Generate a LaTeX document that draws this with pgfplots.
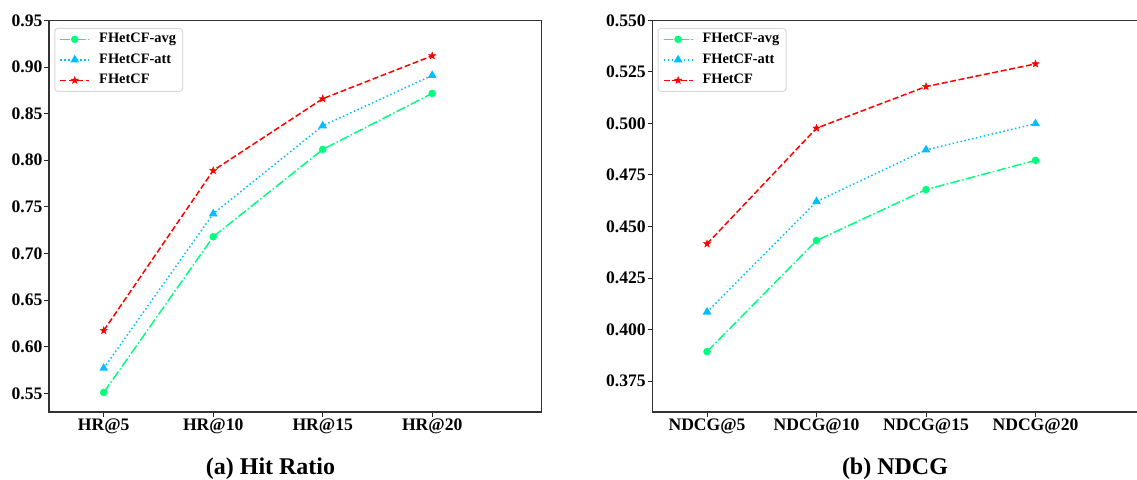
\documentclass[border=0pt]{standalone}
\usepackage{pgfplots}
\pgfplotsset{compat=1.18}
\usepackage{fontspec}
\setmainfont{Liberation Serif}
\definecolor{cavg}{RGB}{0,255,127}
\definecolor{catt}{RGB}{0,191,255}
\definecolor{cfh}{RGB}{255,0,0}
\pgfdeclareplotmark{fstar}{%
  \pgfpathmoveto{\pgfpointpolar{90}{\pgfplotmarksize}}%
  \pgfpathlineto{\pgfpointpolar{126}{0.42\pgfplotmarksize}}%
  \pgfpathlineto{\pgfpointpolar{162}{\pgfplotmarksize}}%
  \pgfpathlineto{\pgfpointpolar{198}{0.42\pgfplotmarksize}}%
  \pgfpathlineto{\pgfpointpolar{234}{\pgfplotmarksize}}%
  \pgfpathlineto{\pgfpointpolar{270}{0.42\pgfplotmarksize}}%
  \pgfpathlineto{\pgfpointpolar{306}{\pgfplotmarksize}}%
  \pgfpathlineto{\pgfpointpolar{342}{0.42\pgfplotmarksize}}%
  \pgfpathlineto{\pgfpointpolar{18}{\pgfplotmarksize}}%
  \pgfpathlineto{\pgfpointpolar{54}{0.42\pgfplotmarksize}}%
  \pgfpathclose
  \pgfusepathqfillstroke}
\pgfplotsset{
  panel/.style={
    scale only axis,
    width=246.35pt, height=195.8pt,
    xmin=-0.5, xmax=4,
    xtick={0,1,2,3},
    tick align=outside,
    tick pos=left,
    major tick length=2.3pt,
    every tick/.style={black!85, line width=0.5pt},
    axis line style={black!80, line width=0.6pt},
    ticklabel style={font=\fontsize{8.8}{10}\selectfont\bfseries, inner sep=0.8pt},
    /pgf/number format/assume math mode=true,
    /pgf/number format/fixed,
    /pgf/number format/fixed zerofill,
    legend style={at={(0.0108,0.981)}, anchor=north west,
      draw=black!15, rounded corners=1.5pt, line width=0.5pt,
      inner xsep=2.35pt, inner ysep=1.25pt,
      font=\fontsize{7.2}{8}\selectfont\bfseries,
      row sep=1.75pt, column sep=3.6pt,
      nodes={inner sep=1pt, text height=5pt, text depth=1.5pt}},
    legend cell align=left,
    legend image code/.code={\draw[mark repeat=2,mark phase=2,##1] plot coordinates {(0pt,0pt)(7.25pt,0pt)(14.5pt,0pt)};},
  },
  savg/.style={cavg, line width=0.75pt, dash pattern=on 4.8pt off 1.2pt on 0.75pt off 1.2pt,
    mark=*, mark size=1.5pt, mark options={solid, fill=cavg, draw=cavg}},
  satt/.style={catt, line width=0.75pt, dash pattern=on 0.75pt off 1.25pt,
    mark=triangle*, mark size=1.8pt, mark options={solid, fill=catt, draw=catt}},
  sfh/.style={cfh, line width=0.75pt, dash pattern=on 3pt off 1.3pt,
    mark=fstar, mark size=1.9pt, mark options={solid, fill=cfh, draw=cfh, line width=0.2pt}},
}
\begin{document}
\begin{tikzpicture}
\path[use as bounding box] (-24.5pt,-33.5pt) rectangle (544pt,206pt);
\begin{axis}[panel, at={(0pt,0pt)}, anchor=south west,
  ymin=0.53, ymax=0.95,
  ytick={0.55,0.60,0.65,0.70,0.75,0.80,0.85,0.90,0.95},
  /pgf/number format/precision=2,
  xticklabels={HR@5,HR@10,HR@15,HR@20}]
\addplot[savg] coordinates {(0,0.551) (1,0.718) (2,0.8116) (3,0.8717)};
\addlegendentry{FHetCF-avg}
\addplot[satt] coordinates {(0,0.577) (1,0.7426) (2,0.837) (3,0.891)};
\addlegendentry{FHetCF-att}
\addplot[sfh] coordinates {(0,0.6174) (1,0.789) (2,0.866) (3,0.912)};
\addlegendentry{FHetCF}
\end{axis}
\begin{axis}[panel, at={(301.65pt,0pt)}, anchor=south west,
  ymin=0.36, ymax=0.55,
  ytick={0.375,0.400,0.425,0.450,0.475,0.500,0.525,0.550},
  /pgf/number format/precision=3,
  xticklabels={NDCG@5,NDCG@10,NDCG@15,NDCG@20}]
\addplot[savg] coordinates {(0,0.3893) (1,0.4432) (2,0.4679) (3,0.4821)};
\addlegendentry{FHetCF-avg}
\addplot[satt] coordinates {(0,0.4085) (1,0.4621) (2,0.4872) (3,0.4999)};
\addlegendentry{FHetCF-att}
\addplot[sfh] coordinates {(0,0.4416) (1,0.4977) (2,0.5179) (3,0.5289)};
\addlegendentry{FHetCF}
\end{axis}
\node[anchor=base, font=\fontsize{12}{14}\selectfont\bfseries, inner sep=0pt] at (110.75pt,-31pt) {(a) Hit Ratio};
\node[anchor=base, font=\fontsize{12}{14}\selectfont\bfseries, inner sep=0pt] at (423pt,-31pt) {(b) NDCG};
\end{tikzpicture}
\end{document}
